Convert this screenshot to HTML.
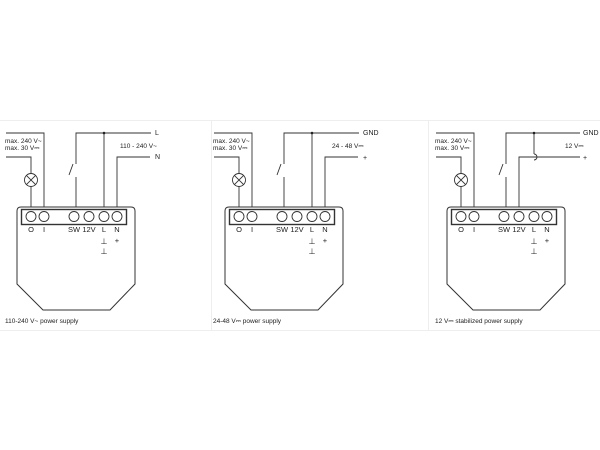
<!DOCTYPE html>
<html><head><style>
html,body{margin:0;padding:0;background:#fff;}
svg{display:block;}
text{font-family:"Liberation Sans",sans-serif;fill:#222;}
</style></head><body>
<svg width="600" height="450" viewBox="0 0 600 450" xmlns="http://www.w3.org/2000/svg">
<g stroke="#eee" stroke-width="1" fill="none">
<line x1="0" y1="120.5" x2="600" y2="120.5"/>
<line x1="0" y1="330.5" x2="600" y2="330.5"/>
<line x1="211.5" y1="120" x2="211.5" y2="330"/>
<line x1="428.5" y1="120" x2="428.5" y2="330"/>
</g>
<defs>
<g id="dev">
<path d="M17,211 Q17,207 21,207 L131,207 Q135,207 135,211 L135,284 L110,310 L43,310 L17,284 Z" fill="none" stroke="#333" stroke-width="1"/>
<rect x="21.5" y="209.5" width="105" height="15" fill="none" stroke="#333" stroke-width="1.4"/>
<g fill="none" stroke="#333" stroke-width="0.9">
<circle cx="31" cy="216.5" r="5"/><circle cx="44" cy="216.5" r="5"/>
<circle cx="74" cy="216.5" r="5"/><circle cx="89" cy="216.5" r="5"/>
<circle cx="104" cy="216.5" r="5"/><circle cx="117" cy="216.5" r="5"/>
<circle cx="31" cy="180" r="6.5"/>
<line x1="26.4" y1="175.4" x2="35.6" y2="184.6"/><line x1="35.6" y1="175.4" x2="26.4" y2="184.6"/>
<polyline points="6,133 44,133 44,207"/>
<polyline points="6,157 31,157 31,173.5"/>
<line x1="31" y1="186.5" x2="31" y2="207"/>
<line x1="76" y1="177" x2="76" y2="207"/>
<line x1="73" y1="164" x2="69" y2="175"/>
</g>
<g font-size="7.5" text-anchor="middle">
<text x="31" y="232">O</text><text x="44" y="232">I</text>
<text x="74" y="232">SW</text><text x="89" y="232">12V</text>
<text x="104" y="232">L</text><text x="117" y="232">N</text>
<text x="104" y="244" font-size="8">⊥</text><text x="104" y="254" font-size="8">⊥</text>
<text x="117" y="243" font-size="7.5">+</text>
</g>
<text x="5" y="143" font-size="6.5">max. 240 V~</text>
<text x="5" y="150" font-size="6.5">max. 30 V⎓</text>
</g>
</defs>
<use href="#dev"/>
<g fill="none" stroke="#333" stroke-width="0.9">
<polyline points="76,164 76,133 151,133"/>
<line x1="104" y1="133" x2="104" y2="207"/>
<polyline points="150,157 117,157 117,207"/>
</g>
<circle cx="104" cy="133" r="1.3" fill="#222"/>
<text x="155" y="135" font-size="7">L</text>
<text x="155" y="159" font-size="7">N</text>
<text x="120" y="148" font-size="6.5">110 - 240 V~</text>
<text x="5" y="323" font-size="6.5">110-240 V~ power supply</text>
<g transform="translate(208,0)"><use href="#dev"/>
<g fill="none" stroke="#333" stroke-width="0.9">
<polyline points="76,164 76,133 151,133"/>
<line x1="104" y1="133" x2="104" y2="207"/>
<polyline points="150,157 117,157 117,207"/>
</g>
<circle cx="104" cy="133" r="1.3" fill="#222"/>
<text x="155" y="135" font-size="7">GND</text>
<text x="155" y="160" font-size="7">+</text>
<text x="124" y="148" font-size="6.5">24 - 48 V⎓</text>
<text x="5" y="323" font-size="6.5">24-48 V⎓ power supply</text>
</g>
<g transform="translate(430,0)"><use href="#dev"/>
<g fill="none" stroke="#333" stroke-width="0.9">
<polyline points="76,164 76,133 150,133"/>
<polyline points="104,133 104,154 M104,160 104,207"/>
<path d="M104,154 A3,3 0 0 1 104,160"/>
<polyline points="150,157 89,157 89,207"/>
</g>
<circle cx="104" cy="133" r="1.3" fill="#222"/>
<text x="153" y="135" font-size="7">GND</text>
<text x="153" y="160" font-size="7">+</text>
<text x="135" y="148" font-size="6.5">12 V⎓</text>
<text x="5" y="323" font-size="6.5">12 V⎓ stabilized power supply</text>
</g>
</svg>
</body></html>
